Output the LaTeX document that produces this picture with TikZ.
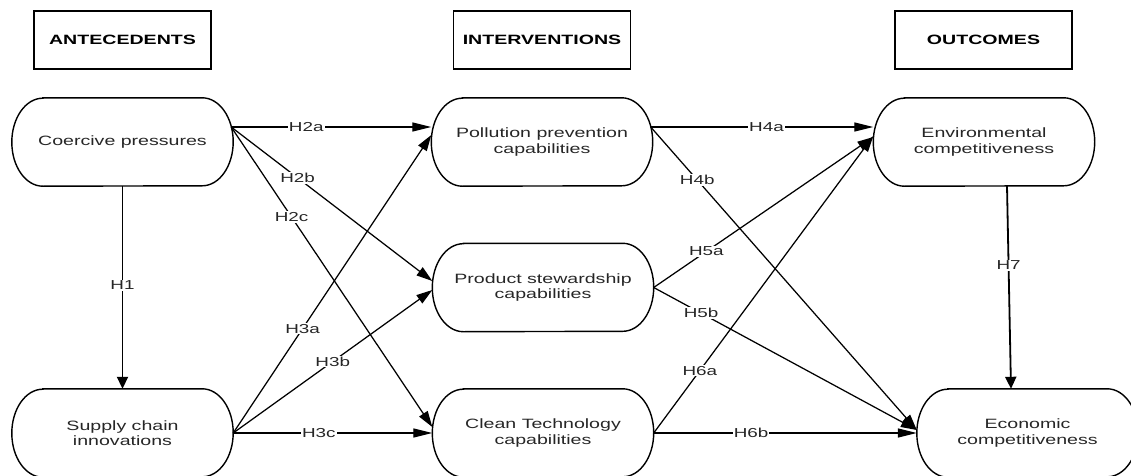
\documentclass[tikz,border=0pt]{standalone}
\usepackage{fontspec}
\setmainfont{Liberation Sans}[FakeStretch=1.45]
\usetikzlibrary{arrows.meta}
\begin{document}
\begin{tikzpicture}[x=1pt,y=1pt,
  head/.style={draw, line width=1.5pt, minimum width=177pt, minimum height=58pt,
    inner sep=0pt, text=black, font=\fontsize{13.5}{15.5}\selectfont\bfseries},
  stadium/.style={minimum width=221pt, minimum height=88pt, inner sep=0pt,
    align=center, text=black!85, font=\fontsize{13.5}{15.5}\selectfont},
  outline/.style={line width=1.4pt},
  link/.style={line width=1.25pt},
  vlink/.style={line width=1.8pt},
  hyp/.style={fill=white, inner sep=1pt, text=black!85, font=\fontsize{13}{15}\selectfont},
  tiph/.style={-{Triangle[length=19pt,width=9pt]}},
  tipd/.style={-{Triangle[length=16pt,width=10pt]}},
  tipv/.style={-{Triangle[length=12pt,width=11pt]}}
]
\clip (0,0) rectangle (1131,475);

% column headings
\node[head] (ante) at (122.5,435) {ANTECEDENTS};
\node[head] (inter) at (542,435) {INTERVENTIONS};
\node[head] (outc) at (983.5,435) {OUTCOMES};

% constructs
\node[stadium] (cp) at (122.5,333) {Coercive pressures};
\node[stadium] (sc) at (122.5,42) {Supply chain\\innovations};
\node[stadium] (pp) at (542,333) {Pollution prevention\\capabilities};
\node[stadium] (ps) at (543,187.5) {Product stewardship\\capabilities};
\node[stadium] (ct) at (543,42) {Clean Technology\\capabilities};
\node[stadium] (env) at (984,333) {Environmental\\competitiveness};
\node[stadium] (eco) at (1027.5,42) {Economic\\competitiveness};

% rounded outlines with elliptical ends
\foreach \n in {cp,sc,pp,ps,ct,env,eco}
  \draw[outline] ([xshift=31pt]\n.north west) -- ([xshift=-31pt]\n.north east)
    arc[start angle=90, end angle=-90, x radius=31pt, y radius=44pt]
    -- ([xshift=31pt]\n.south west)
    arc[start angle=270, end angle=90, x radius=31pt, y radius=44pt] -- cycle;

% hypotheses
\draw[vlink,tipv] (cp.south) -- node[hyp,pos=0.49] {H1} (sc.north);

\draw[link,tiph] ([yshift=15pt,xshift=-2pt]cp.east) -- node[hyp,pos=0.375] {H2a} ([yshift=15pt]pp.west);
\draw[link,tipd] ([yshift=15pt,xshift=-2pt]cp.east) -- node[hyp,pos=0.33] {H2b} ([yshift=6.5pt]ps.west);
\draw[link,tipd] ([yshift=15pt,xshift=-2pt]cp.east) -- node[hyp,pos=0.30] {H2c} ([yshift=6pt]ct.west);

\draw[link,tipd] (sc.east) -- node[hyp,pos=0.35] {H3a} ([yshift=7pt]pp.west);
\draw[link,tipd] (sc.east) -- node[hyp,pos=0.50] {H3b} ([yshift=-2.5pt]ps.west);
\draw[link,tiph] (sc.east) -- node[hyp,pos=0.43] {H3c} (ct.west);

\draw[link,tiph] ([yshift=15pt,xshift=-2pt]pp.east) -- node[hyp,pos=0.52] {H4a} ([yshift=15pt]env.west);
\draw[link,tipd] ([yshift=15pt,xshift=-2pt]pp.east) -- node[hyp,pos=0.175] {H4b} ([yshift=3pt]eco.west);

\draw[link,tipd] (ps.east) -- node[hyp,pos=0.24] {H5a} ([yshift=5pt]env.west);
\draw[link,tipd] (ps.east) -- node[hyp,pos=0.18] {H5b} ([yshift=3pt]eco.west);

\draw[link,tipd] (ct.east) -- node[hyp,pos=0.21] {H6a} ([yshift=6pt]env.west);
\draw[link,tiph] (ct.east) -- node[hyp,pos=0.37] {H6b} (eco.west);

\draw[vlink,tipv] ([xshift=23pt]env.south) -- node[hyp,pos=0.39] {H7} ([xshift=-16.5pt]eco.north);
\end{tikzpicture}
\end{document}
